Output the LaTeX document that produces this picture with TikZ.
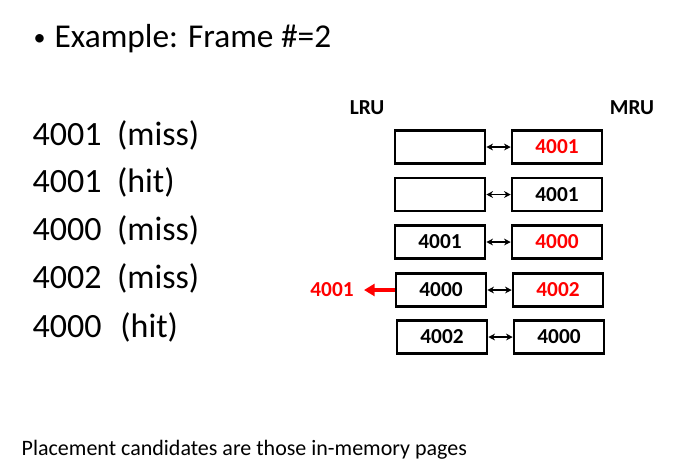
\documentclass[tikz,border=0pt]{standalone}
\usepackage{fontspec}
\setmainfont{Carlito}
\usetikzlibrary{arrows.meta}

\begin{document}
\begin{tikzpicture}[x=0.75pt,y=-0.75pt,
    slot/.style={draw,line width=1.9pt,minimum width=67.5pt,minimum height=24.5pt,inner sep=0pt,font=\fontsize{16}{18}\selectfont\bfseries},
    link/.style={{Stealth[length=5pt,width=5pt]}-{Stealth[length=5pt,width=5pt]},line width=0.9pt},
    big/.style={anchor=base west,font=\fontsize{25.5}{30}\selectfont}]
    \def\L{440} \def\R{557}
    \useasboundingbox (0,0) rectangle (673,465);
    % title and reference string
    \node[anchor=base west,font=\fontsize{18}{20}\selectfont] (dot) at (29,45) {\textbullet};
    \node[big,font=\fontsize{25}{30}\selectfont] (title) at (50,47) {Example: Frame \#=2};
    \node[big] (r1) at (28,145) {4001\ \ (miss)};
    \node[big] (r2) at (28,192) {4001\ \ (hit)};
    \node[big] (r3) at (28,240) {4000\ \ (miss)};
    \node[big] (r4) at (28,288) {4002\ \ (miss)};
    \node[big] (r5) at (28,337) {4000\ \ \hspace{2.5pt}(hit)};
    % LRU ... MRU
    \node[font=\fontsize{16}{18}\selectfont\bfseries] (lru) at (367,108) {LRU};
    \node[font=\fontsize{16}{18}\selectfont\bfseries] (mru) at (632,108) {MRU};
    \node[slot] (l1) at (\L,147) {};
    \node[slot,text=red] (m1) at (\R,147) {4001};
    \node[slot] (l2) at (\L,194.5) {};
    \node[slot] (m2) at (\R,194.5) {4001};
    \node[slot] (l3) at (\L,242) {4001};
    \node[slot,text=red] (m3) at (\R,242) {4000};
    \node[slot] (l4) at (\L+1,290) {4000};
    \node[slot,text=red] (m4) at (\R+1,290) {4002};
    \node[slot] (l5) at (\L+2,337) {4002};
    \node[slot] (m5) at (\R+2,337) {4000};
    \draw[link] (l1) -- (m1);
    \draw[link] (l2) -- (m2);
    \draw[link] (l3) -- (m3);
    \draw[link] (l4) -- (m4);
    \draw[link] (l5) -- (m5);
    % evicted page
    \node[font=\fontsize{16}{18}\selectfont\bfseries,text=red] (gone) at (332,290) {4001};
    \coordinate (out) at (364,290);
    \draw[red,line width=3pt,-{Triangle[length=8pt,width=9pt]}] (l4.west) -- (out);
    \node[anchor=base west,font=\fontsize{16.5}{20}\selectfont] (note) at (17,455) {Placement candidates are those in-memory pages};
\end{tikzpicture}
\end{document}
